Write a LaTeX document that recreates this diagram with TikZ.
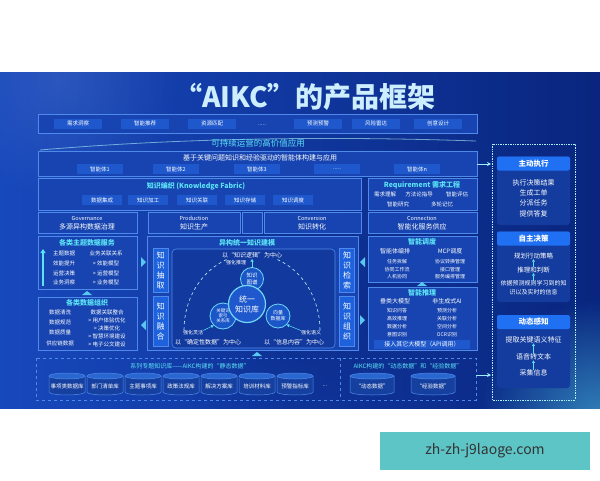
\documentclass[tikz,border=0pt]{standalone}
\usepackage{fontspec}
\setmainfont{Noto Sans CJK SC}
\usetikzlibrary{shapes.geometric,arrows.meta,fadings}
\definecolor{bgA}{HTML}{1748BC}
\definecolor{bgB}{HTML}{09257E}
\definecolor{pfill}{HTML}{1744B0}
\definecolor{pline}{HTML}{4F8AEA}
\definecolor{ifill}{HTML}{1E58CC}
\definecolor{cyanT}{HTML}{5CE2F6}
\definecolor{hdr}{HTML}{1F70F2}
\definecolor{sub}{HTML}{133C9E}
\definecolor{vfill}{HTML}{1D62DC}
\definecolor{inner}{HTML}{123A9E}
\definecolor{ballfill}{HTML}{1A56C8}
\definecolor{ballline}{HTML}{72D6F6}
\definecolor{cylbody}{HTML}{16409F}
\definecolor{cylend}{HTML}{2A66D0}
\definecolor{wm}{HTML}{5EC5C7}
\definecolor{ttlc}{HTML}{CDEEFF}
\newcommand{\fsz}[1]{\fontsize{#1}{#1}\selectfont}
\tikzfading[name=glowfade, inner color=transparent!0, outer color=transparent!100]
\tikzset{
  panel/.style={draw=pline, line width=0.7pt, fill=pfill},
  itm/.style={fill=ifill, text=white, font=\fsz{5.5}, minimum height=10pt, inner sep=1pt, minimum width=#1},
  itm/.default=42pt,
  tx/.style={font=\fsz{5.5}, text=white, inner sep=0pt},
  ttl/.style={font=\fsz{7}\bfseries, text=cyanT, inner sep=0pt},
  vbx/.style={fill=vfill, draw=pline, line width=0.4pt, minimum width=15pt, font=\fontsize{8}{10}\selectfont, align=center, text=white, inner sep=0pt},
  ball/.style={circle, draw=ballline, line width=0.8pt, fill=ballfill, align=center, text=white, inner sep=0pt},
  hdrbox/.style={fill=hdr, rounded corners=2pt, minimum width=73pt, minimum height=14pt, font=\fsz{7.5}\bfseries, text=white, inner sep=0pt},
  coltx/.style={font=\fsz{7}, text=white, inner sep=0pt},
  upar/.style={-{Triangle[length=2.5pt,width=3pt]}, line width=0.5pt, draw=cyanT},
  conn/.style={-{Stealth[length=4pt,width=4pt]}, line width=0.7pt, draw=cyanT!60!white},
  chev/.style={fill=cyanT!70!pline},
  cylside/.style={draw=pline, fill=cylbody, line width=0.5pt},
  cyltop/.style={draw=pline, fill=cylend, line width=0.5pt},
}
% name, cx, cy, half width, text
\newcommand{\cylb}[5]{%
  \draw[cylside] ({#2-#4},{#3-8}) -- ({#2-#4},{#3+8}) arc[start angle=180, end angle=0, x radius=#4, y radius=3] -- ({#2+#4},{#3-8}) -- cycle;
  \draw[cyltop] (#2,{#3-8}) ellipse [x radius=#4, y radius=3];
  \node[tx] (#1) at (#2,{#3+2}) {#5};}
\begin{document}
\begin{tikzpicture}[x=1pt,y=-1pt]
\useasboundingbox (0,0) rectangle (600,480);
\fill[white] (0,0) rectangle (600,480);
% background
\shade[left color=bgA, right color=bgB] (0,72) rectangle (600,408);
\begin{scope}
\clip (0,72) rectangle (600,408);
\fill[cyanT, opacity=0.5, path fading=glowfade] (600,420) circle (120);
\fill[bgA!70!white, opacity=0.3, path fading=glowfade] (60,80) circle (120);
\fill[bgB, opacity=0.5, path fading=glowfade] (300,300) circle (150);
\end{scope}

% title
\node[font=\fsz{28}\bfseries, text=ttlc, inner sep=0pt] (title) at (305,97) {“AIKC”的产品框架};

% top application bar
\draw[panel] (38,114) rectangle (477,133);
\node[itm=48pt] (a1) at (78,123.5) {需求洞察};
\node[itm=48pt] (a2) at (145,123.5) {智能推荐};
\node[itm=48pt] (a3) at (212,123.5) {资源匹配};
\node[tx] (a4) at (262,125) {.....};
\node[itm=48pt] (a5) at (318,123.5) {预测预警};
\node[itm=48pt] (a6) at (376,123.5) {风险雷达};
\node[itm=48pt] (a7) at (438,123.5) {创意设计};

% value label
\draw[cyanT!50!white, line width=0.8pt, opacity=0.6] (40,150) .. controls (180,138) and (330,136) .. (476,141);
\node[font=\fsz{8.5}, text=cyanT, inner sep=0pt] (val) at (258,143) {可持续运营的高价值应用};

% agents
\draw[panel] (38,151) rectangle (477,176);
\node[tx, font=\fsz{7}] (agT) at (260,158) {基于关键问题知识和经验驱动的智能体构建与应用};
\node[itm=46pt] (g1) at (100,169) {智能体1};
\node[itm=46pt] (g2) at (176,169) {智能体2};
\node[itm=46pt] (g3) at (257,169) {智能体3};
\node[itm=46pt] (g4) at (337,169) {.....};
\node[itm=46pt] (g5) at (417,169) {智能体n};

% knowledge fabric
\draw[panel] (38,178) rectangle (361,210);
\node[ttl] (kfT) at (196,186) {知识编织 (Knowledge Fabric)};
\node[itm=40pt] (k1) at (102,200) {数据集成};
\node[itm=40pt] (k2) at (148,200) {知识加工};
\node[itm=40pt] (k3) at (197,200) {知识关联};
\node[itm=40pt] (k4) at (245,200) {知识存储};
\node[itm=40pt] (k5) at (293,200) {知识调度};

% requirement
\draw[panel] (368,178) rectangle (477,210);
\node[ttl] (rqT) at (422,185) {Requirement 需求工程};
\node[tx] (r1) at (385,194) {需求理解};
\node[tx] (r2) at (419,194) {方法论指导};
\node[tx] (r3) at (457,194) {智能评估};
\node[tx] (r4) at (398,204) {智能研究};
\node[tx] (r5) at (442,204) {多轮记忆};

% governance / production / conversion / connection
\draw[panel] (38,212) rectangle (137,233);
\node[tx, font=\fsz{5.5}] (govE) at (87,218) {Governance};
\node[tx, font=\fsz{7}] (govC) at (87,227) {多源异构数据治理};
\draw[panel] (148,212) rectangle (240,233);
\node[tx, font=\fsz{5.5}] (proE) at (194,218) {Production};
\node[tx, font=\fsz{7}] (proC) at (194,227) {知识生产};
\draw[panel] (242,212) rectangle (262,233);
\draw[panel] (264,212) rectangle (361,233);
\node[tx, font=\fsz{5.5}] (cvE) at (312,218) {Conversion};
\node[tx, font=\fsz{7}] (cvC) at (312,227) {知识转化};
\draw[panel] (368,212) rectangle (477,233);
\node[tx, font=\fsz{5.5}] (cnE) at (422,218) {Connection};
\node[tx, font=\fsz{7}] (cnC) at (422,227) {智能化服务供应};

% left panel 1
\draw[panel] (38,236) rectangle (137,289);
\node[ttl] (l1T) at (87,243) {各类主题数据服务};
\node[tx] (l1a) at (64,253) {主题数据};
\node[tx] (l1b) at (64,263) {效能提升};
\node[tx] (l1c) at (64,273) {运营决策};
\node[tx] (l1d) at (64,282) {业务洞察};
\node[tx] (l1e) at (106,253) {业务关联关系};
\node[tx] (l1f) at (106,263) {> 效能模型};
\node[tx] (l1g) at (106,273) {> 运营模型};
\node[tx] (l1h) at (106,282) {> 业务模型};
\coordinate (upA) at (43,286);
\coordinate (upB) at (43,249);
\draw[-{Triangle[length=4pt,width=5pt]}, line width=1.6pt, cyanT] (upA) -- (upB);
\fill[chev] (82,295) -- (87,291) -- (92,295) -- cycle;

% left panel 2
\draw[panel] (38,297) rectangle (137,350);
\node[ttl] (l2T) at (87,303) {各类数据组织};
\node[tx] (l2a) at (60,312) {数据清洗};
\node[tx] (l2b) at (60,322) {数据规范};
\node[tx] (l2c) at (60,332) {数据质量};
\node[tx] (l2d) at (60,343) {供应链数据};
\node[tx] (l2e) at (107,312) {数据关联整合};
\node[tx] (l2f) at (107,320) {> 用户体验优化};
\node[tx] (l2g) at (107,328) {> 决策优化};
\node[tx] (l2h) at (107,336) {> 智慧环境建设};
\node[tx] (l2i) at (107,344) {> 电子公文建设};

% chevrons
\fill[chev] (141,257) -- (146,262) -- (141,267) -- cycle;
\fill[chev] (146,320) -- (141,325) -- (146,330) -- cycle;
\fill[chev] (365,257) -- (360,262) -- (365,267) -- cycle;
\fill[chev] (360,315) -- (365,320) -- (360,325) -- cycle;

% middle panel
\draw[panel] (147,236) rectangle (358,350);
\node[ttl] (mT) at (247,243) {异构统一知识建模};
\node[vbx, minimum height=44pt] (v1) at (160.5,270) {知\\识\\抽\\取};
\node[vbx, minimum height=50pt] (v2) at (160.5,321) {知\\识\\融\\合};
\node[vbx, minimum height=44pt] (v3) at (347,270) {知\\识\\检\\索};
\node[vbx, minimum height=50pt] (v4) at (347,321) {知\\识\\组\\织};
\draw[draw=pline, line width=0.6pt, fill=inner, rounded corners=4pt] (172,249) rectangle (335,348);
\draw[dashed, cyanT!40!white, line width=0.6pt] (184,330) arc[start angle=180, end angle=248, x radius=68, y radius=76];
\draw[dashed, cyanT!40!white, line width=0.6pt] (320,330) arc[start angle=0, end angle=-68, x radius=68, y radius=76];
\node[tx, font=\fsz{6}] (lbT) at (252,255) {以“知识逻辑”为中心};
\node[tx, font=\fsz{5}] (lbT2) at (236,263) {强化推理};
\node[ball, minimum size=23pt, font=\fontsize{5.5}{6.5}\selectfont] (kg) at (252,279) {知识\\图谱};
\node[ball, minimum size=26pt, font=\fontsize{4.5}{5.2}\selectfont] (kw) at (223,316) {关键词\\索引\\关系库};
\node[ball, minimum size=24pt, font=\fontsize{5}{6}\selectfont] (vd) at (278,316) {向量\\数据库};
\node[ball, minimum size=37pt, line width=1.2pt, fill=ifill, font=\fontsize{8}{10}\selectfont] (kb) at (247,304) {统一\\知识库};
\coordinate (kgup) at (252,259);
\draw[upar] (kg.north) -- (kgup);
\node[tx, font=\fsz{5}] (lbL) at (193,333) {强化灵活};
\node[tx, font=\fsz{6}] (lbL2) at (208,342) {以“确定性数据”为中心};
\node[tx, font=\fsz{5}] (lbR) at (311,333) {强化语义};
\node[tx, font=\fsz{6}] (lbR2) at (294,342) {以“信息内容”为中心};
\draw[upar] (lbL.north east) -- (kw.south west);
\draw[upar] (lbR.north west) -- (vd.south east);
\fill[chev] (252,356) -- (257,352) -- (262,356) -- cycle;

% right panel: scheduling
\draw[panel] (368,236) rectangle (477,282);
\node[ttl] (sT) at (422,242) {智能调度};
\node[tx, font=\fsz{6}] (s1) at (395,251) {智能体编排};
\node[tx, font=\fsz{6}] (s2) at (450,251) {MCP调度};
\node[tx, font=\fsz{5}] (s3) at (397,262) {任务拆解};
\node[tx, font=\fsz{5}] (s4) at (397,270) {协同工作流};
\node[tx, font=\fsz{5}] (s5) at (397,277) {人机协同};
\node[tx, font=\fsz{5}] (s6) at (450,262) {协议转换管理};
\node[tx, font=\fsz{5}] (s7) at (450,270) {接口管理};
\node[tx, font=\fsz{5}] (s8) at (450,277) {服务编排管理};
\fill[chev] (417,286) -- (422,282) -- (427,286) -- cycle;

% right panel: reasoning
\draw[panel] (368,287) rectangle (477,350);
\node[ttl] (iT) at (422,293) {智能推理};
\node[tx, font=\fsz{6}] (i1) at (395,301) {垂类大模型};
\node[tx, font=\fsz{6}] (i2) at (447,301) {非生成式AI};
\node[tx, font=\fsz{5}] (i3) at (397,311) {知识问答};
\node[tx, font=\fsz{5}] (i4) at (397,319) {高效推理};
\node[tx, font=\fsz{5}] (i5) at (397,327) {数据分析};
\node[tx, font=\fsz{5}] (i6) at (397,335) {意图识别};
\node[tx, font=\fsz{5}] (i7) at (447,311) {预测分析};
\node[tx, font=\fsz{5}] (i8) at (447,319) {关联分析};
\node[tx, font=\fsz{5}] (i9) at (447,327) {空间分析};
\node[tx, font=\fsz{5}] (i10) at (447,335) {OCR识别};
\node[itm=96pt, minimum height=9pt, font=\fsz{6}] (i11) at (422,344) {接入其它大模型（API调用）};

% bottom knowledge bases
\draw[dashed, pline, line width=0.7pt] (36,358) rectangle (476,400);
\draw[dashed, pline, line width=0.7pt] (340,358) -- (340,400);
\node[tx, font=\fsz{6}, text=cyanT] (bT) at (190,366) {系列专题知识库——AIKC构建的“静态数据”};
\node[tx, font=\fsz{6}, text=cyanT] (bT2) at (408,366) {AIKC构建的“动态数据”和“经验数据”};
\cylb{c1}{67}{384}{18}{事项类数据库}
\cylb{c2}{105}{384}{18}{部门清单库}
\cylb{c3}{143}{384}{18}{主题事项库}
\cylb{c4}{181}{384}{18}{政策法规库}
\cylb{c5}{219}{384}{18}{解决方案库}
\cylb{c6}{257}{384}{18}{培训材料库}
\cylb{c7}{295}{384}{18}{预警指标库}
\node[tx] (c8) at (325,386) {...};
\cylb{d1}{372}{384}{22}{“动态数据”}
\cylb{d2}{433}{384}{22}{“经验数据”}

% right column
\draw[densely dotted, cyanT!50!white, line width=0.7pt] (492,144) rectangle (575,400);
\fill[sub, rounded corners=3pt] (497,156) rectangle (570,225);
\node[hdrbox] (h1) at (533.5,163.5) {主动执行};
\node[coltx] (e1) at (533.5,183) {执行决策结果};
\node[coltx] (e2) at (533.5,193) {生成工单};
\node[coltx] (e3) at (533.5,203) {分派任务};
\node[coltx] (e4) at (533.5,214) {提供答复};
\fill[sub, rounded corners=3pt] (497,231) rectangle (570,302);
\node[hdrbox] (h2) at (533.5,238.5) {自主决策};
\node[coltx, font=\fsz{6.5}] (f1) at (533.5,256) {规划行动策略};
\node[coltx, font=\fsz{6.5}] (f2) at (533.5,270) {推理和判断};
\node[coltx, font=\fontsize{6}{9}\selectfont, align=center] (f3) at (533.5,288) {依据预测规则学习到的知\\识以及实时的信息};
\draw[upar] (f2.north) -- (f1.south);
\draw[upar] (f3.north) -- (f2.south);
\fill[sub, rounded corners=3pt] (497,315) rectangle (570,388);
\node[hdrbox] (h3) at (533.5,322) {动态感知};
\node[coltx] (p1) at (533.5,340) {提取关键语义特征};
\node[coltx] (p2) at (533.5,357) {语音转文本};
\node[coltx] (p3) at (533.5,373) {采集信息};
\draw[upar] (p2.north) -- (p1.south);
\draw[upar] (p3.north) -- (p2.south);

% connectors to right column
\coordinate (agE) at (477,164);
\coordinate (colA) at (491,164);
\coordinate (bE) at (476,375);
\coordinate (colB) at (491,375);
\draw[conn] (agE) -- (colA);
\draw[conn] (bE) -- (colB);

% watermark box
\node[fill=wm, minimum width=210pt, minimum height=38pt, text=black!80, font=\fsz{14}, inner sep=0pt] (wmk) at (485,451) {zh-zh-j9laoge.com};
\end{tikzpicture}
\end{document}
